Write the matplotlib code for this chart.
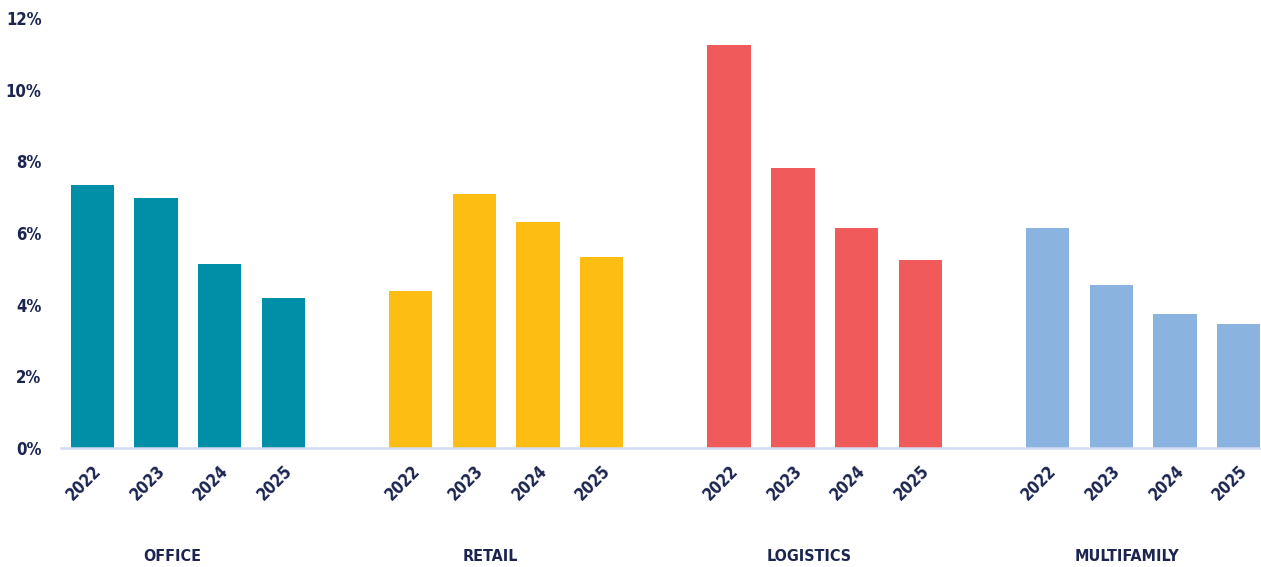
import matplotlib.pyplot as plt

sectors = ["OFFICE", "RETAIL", "LOGISTICS", "MULTIFAMILY"]
years = ["2022", "2023", "2024", "2025"]
office = [7.34, 6.98, 5.14, 4.19]
retail = [4.38, 7.09, 6.31, 5.33]
logistics = [11.25, 7.81, 6.14, 5.25]
multifamily = [6.14, 4.55, 3.74, 3.46]
y_ticks = [0, 2, 4, 6, 8, 10, 12]

colors = ["#008FA7", "#FDBD12", "#F05A5B", "#8BB3E0"]
text_color = "#1B2550"
font = dict(family="DejaVu Sans", stretch="condensed", weight="bold", color=text_color)

fig = plt.figure(figsize=(12.61, 5.67), dpi=100)
ax = fig.add_axes([61 / 1261, 119 / 567, 1200 / 1261, 430 / 567])

positions = []
labels = []
for g, values in enumerate([office, retail, logistics, multifamily]):
    x = [g * 5 + i for i in range(len(values))]
    ax.bar(x, values, width=0.68, color=colors[g], zorder=2)
    positions += x
    labels += years
    ax.text(g * 5 + 1.5 - 0.25, -3.03, sectors[g], ha="center", va="center",
            fontsize=11.5, **font)

ax.set_xlim(-0.49, 18.35)
ax.set_ylim(0, 12)
ax.set_yticks(y_ticks)
ax.set_yticklabels([f"{v}%" for v in y_ticks])
ax.set_xticks(positions)
ax.set_xticklabels(labels, rotation=45, ha="right", va="top", rotation_mode="anchor")

for lab in ax.get_yticklabels() + ax.get_xticklabels():
    lab.set_family("DejaVu Sans")
    lab.set_stretch("condensed")
    lab.set_weight("bold")
    lab.set_color(text_color)
    lab.set_fontsize(12)

ax.tick_params(axis="y", length=0, pad=14)
ax.tick_params(axis="x", length=0, pad=10)
for side in ["top", "right", "left"]:
    ax.spines[side].set_visible(False)
ax.spines["bottom"].set_color("#D3DCF2")
ax.spines["bottom"].set_linewidth(1.8)
ax.spines["bottom"].set_zorder(3)

plt.savefig("out.png", dpi=100)
